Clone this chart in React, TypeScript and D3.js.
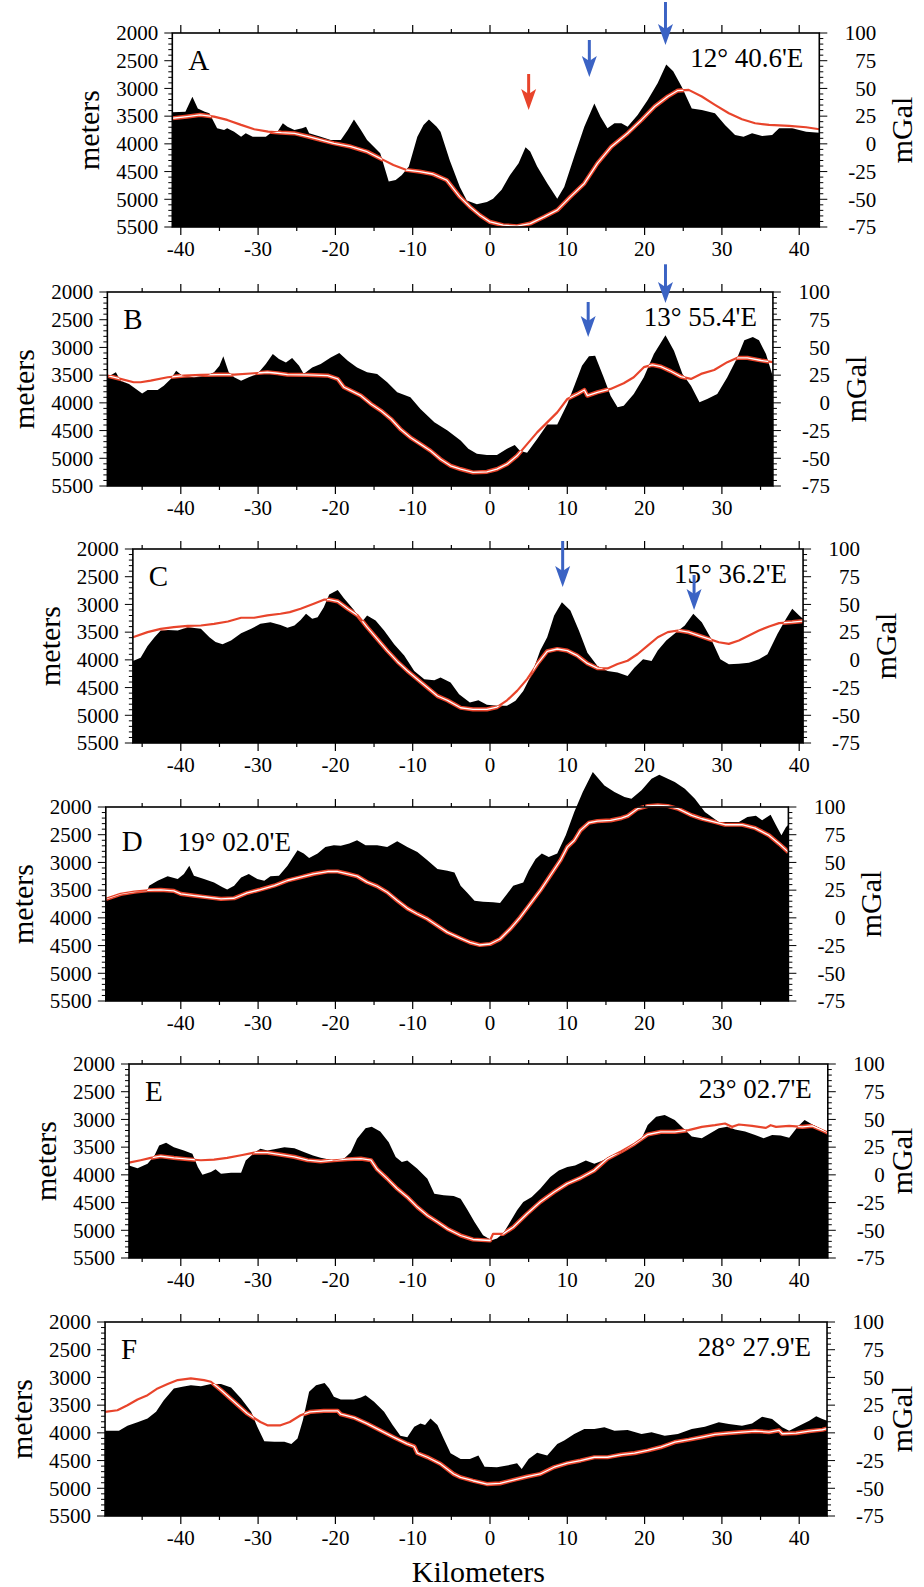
import React, { useEffect, useRef } from 'react';
import * as d3 from 'd3';

// ---- data: [km, depth in meters] and [km, anomaly in mGal] ----
const depthA = [[-41.1,3430],[-39.4,3420],[-38.5,3150],[-37.8,3360],[-36.9,3420],[-36.3,3450],[-35.3,3720],[-34.4,3750],[-34.0,3720],[-33.1,3780],[-32.2,3870],[-31.6,3810],[-30.7,3870],[-29.9,3870],[-29.0,3870],[-28.4,3810],[-27.5,3780],[-26.8,3630],[-26.2,3690],[-25.3,3750],[-24.3,3720],[-23.8,3690],[-23.4,3810],[-21.9,3870],[-20.6,3930],[-19.3,3930],[-18.4,3750],[-17.6,3560],[-16.7,3750],[-15.9,3930],[-14.2,4170],[-13.1,4680],[-12.2,4650],[-11.4,4560],[-10.5,4410],[-9.4,3870],[-8.6,3660],[-7.9,3560],[-6.9,3690],[-6.4,3780],[-5.2,4300],[-3.9,4780],[-3.0,5020],[-1.7,5090],[-0.4,5050],[0.4,4990],[1.5,4830],[2.6,4560],[3.7,4350],[4.6,4060],[5.2,4140],[6.1,4410],[7.4,4710],[8.7,4990],[9.6,4780],[10.9,4230],[12.2,3690],[13.5,3270],[14.3,3510],[15.2,3720],[16.1,3630],[17.0,3630],[17.8,3690],[19.1,3480],[20.4,3210],[21.7,2900],[22.8,2570],[23.7,2690],[24.8,2970],[26.1,3360],[27.4,3390],[29.1,3450],[30.4,3660],[31.7,3840],[32.8,3870],[33.9,3810],[35.2,3860],[36.5,3840],[37.4,3720],[39.1,3720],[40.9,3780],[42.6,3800]];
const gravA = [[-41.1,23.1],[-39.2,24.6],[-37.5,26.1],[-35.7,24.6],[-34.0,21.6],[-32.2,17.1],[-30.5,13.2],[-28.7,11.0],[-27.0,10.1],[-25.3,9.5],[-23.5,6.5],[-21.9,3.5],[-20.2,0.5],[-18.0,-2.5],[-15.9,-7.1],[-14.2,-13.1],[-12.5,-19.1],[-10.8,-23.6],[-9.1,-25.1],[-7.4,-27.2],[-5.6,-32.7],[-3.9,-47.8],[-2.6,-56.8],[-1.3,-64.4],[0,-70.4],[1.7,-73.4],[3.5,-74.3],[5.2,-71.9],[7.0,-65.9],[8.7,-59.8],[10.4,-47.8],[12.2,-35.7],[13.9,-17.6],[15.7,-2.5],[17.8,9.5],[19.6,21.6],[21.3,33.7],[23.0,42.7],[24.3,48.1],[25.7,48.7],[27.4,42.7],[29.1,35.2],[30.9,27.6],[32.6,22.2],[34.3,18.6],[36.1,17.1],[38.7,16.2],[40.9,15.0],[42.6,13.2]];

const depthB = [[-49.5,3540],[-48.4,3450],[-47.8,3600],[-46.7,3660],[-45.8,3750],[-45.0,3830],[-44.3,3770],[-43.0,3770],[-42.2,3690],[-41.3,3570],[-40.6,3420],[-39.8,3510],[-38.3,3540],[-36.6,3510],[-35.7,3450],[-35.0,3330],[-34.5,3160],[-33.8,3450],[-33.1,3540],[-32.2,3600],[-31.2,3540],[-30.1,3480],[-29.0,3300],[-28.1,3120],[-27.3,3210],[-26.4,3270],[-25.6,3190],[-24.7,3330],[-24.1,3480],[-23.0,3360],[-21.9,3300],[-20.6,3180],[-19.5,3100],[-18.4,3240],[-17.2,3360],[-15.9,3450],[-14.6,3480],[-13.3,3630],[-12.0,3810],[-10.3,3900],[-9.0,4110],[-7.2,4350],[-5.5,4500],[-3.8,4680],[-2.8,4830],[-1.7,4920],[-0.4,4940],[0.9,4940],[2.2,4830],[3.2,4760],[3.9,4870],[4.8,4900],[6.1,4650],[7.4,4390],[8.7,4390],[10.0,4020],[11.0,3660],[11.9,3330],[12.8,3160],[13.6,3150],[14.7,3540],[15.6,3870],[16.5,4080],[17.3,4050],[18.6,3840],[19.9,3540],[21.2,3120],[22.7,2780],[23.8,3060],[24.9,3480],[26.0,3690],[27.1,3990],[28.1,3930],[29.4,3840],[30.7,3540],[32.0,3180],[32.9,2870],[34.0,2810],[34.8,2870],[35.7,3120],[36.6,3530]];
const gravB = [[-49.5,24.6],[-47.8,21.6],[-46.1,18.6],[-45.2,18.6],[-43.9,20.1],[-41.7,23.1],[-39.6,24.6],[-37.4,25.2],[-35.3,25.5],[-33.1,25.5],[-30.5,26.7],[-28.8,27.6],[-27.5,26.7],[-26.2,25.5],[-23.6,25.2],[-21.0,24.6],[-19.7,21.6],[-18.9,14.1],[-18.0,11.0],[-16.7,6.5],[-15.4,-1.0],[-14.1,-7.1],[-12.8,-14.6],[-11.6,-23.6],[-10.3,-31.2],[-9.0,-37.2],[-7.7,-43.2],[-6.4,-50.8],[-5.1,-56.8],[-3.8,-59.8],[-2.2,-62.8],[-0.4,-62.2],[0.9,-59.8],[2.2,-55.3],[3.5,-47.8],[4.8,-37.2],[6.1,-26.6],[7.4,-17.6],[8.7,-8.6],[10.0,3.5],[11.3,8.0],[12.2,11.6],[12.6,6.5],[13.9,9.5],[15.6,12.6],[17.3,17.7],[18.6,23.1],[19.9,32.2],[21.0,34.3],[22.1,32.7],[23.4,28.5],[24.7,23.7],[26.0,21.6],[27.3,26.1],[29.0,29.7],[30.7,36.7],[32.0,40.6],[33.3,40.6],[35.1,38.2],[36.6,36.7]];

const depthC = [[-46.2,4020],[-45.2,3960],[-44.3,3750],[-43.4,3590],[-42.6,3470],[-41.7,3460],[-40.4,3470],[-39.1,3410],[-37.4,3440],[-36.3,3590],[-35.5,3680],[-34.6,3720],[-33.5,3650],[-32.2,3520],[-30.9,3440],[-29.7,3350],[-28.4,3320],[-27.1,3370],[-26.2,3420],[-25.3,3380],[-24.5,3280],[-23.8,3170],[-23.0,3260],[-22.3,3230],[-21.5,3050],[-20.8,2820],[-19.7,2740],[-18.9,2890],[-17.6,3100],[-16.6,3320],[-15.9,3200],[-14.8,3290],[-13.7,3470],[-12.4,3720],[-11.1,3920],[-9.8,4200],[-8.5,4350],[-7.2,4370],[-6.4,4320],[-5.1,4410],[-4.0,4620],[-2.6,4770],[-1.5,4730],[-0.4,4810],[0.9,4830],[2.2,4830],[3.3,4740],[4.3,4560],[5.4,4260],[6.5,3830],[7.4,3590],[8.3,3200],[9.3,2960],[10.4,3110],[11.5,3470],[12.6,3870],[13.9,4110],[15.2,4200],[16.5,4230],[17.8,4290],[18.7,4140],[19.8,3990],[20.9,4020],[21.7,3830],[22.8,3650],[24.1,3500],[25.2,3380],[26.3,3170],[27.4,3320],[28.5,3590],[29.8,3990],[30.9,4080],[32.2,4070],[33.5,4050],[34.8,3990],[35.9,3900],[37.2,3530],[38.3,3260],[39.1,3080],[40.0,3200],[40.5,3260]];
const gravC = [[-46.2,20.4],[-44.3,25.0],[-42.6,28.0],[-40.9,29.5],[-39.1,30.7],[-37.4,31.0],[-35.7,32.5],[-33.9,34.6],[-32.2,38.0],[-30.5,38.0],[-28.8,40.1],[-27.1,41.6],[-25.9,43.1],[-24.5,46.1],[-22.8,50.7],[-21.5,54.3],[-20.8,54.3],[-19.7,52.8],[-18.4,46.1],[-17.1,40.1],[-15.9,29.5],[-14.6,18.9],[-13.3,8.3],[-12.0,-1.4],[-10.7,-9.9],[-9.4,-17.4],[-8.1,-25.0],[-6.8,-32.6],[-5.5,-36.5],[-3.8,-43.2],[-2.2,-44.7],[-0.4,-44.7],[0.9,-42.6],[2.2,-36.5],[3.5,-28.0],[4.8,-17.4],[6.1,-3.8],[7.4,7.7],[8.7,9.8],[10.0,8.3],[11.3,3.8],[12.6,-3.2],[13.9,-7.4],[15.2,-7.7],[16.5,-3.8],[17.8,-0.8],[19.1,5.3],[20.4,12.8],[21.7,20.4],[23.0,25.0],[24.3,26.5],[25.7,25.0],[27.0,21.9],[28.3,18.9],[29.6,15.9],[30.9,14.4],[32.2,17.4],[33.5,21.9],[34.8,26.5],[36.1,30.1],[37.4,33.1],[39.1,34.0],[40.5,35.0]];

const depthD = [[-49.7,3660],[-47.8,3570],[-46.0,3530],[-44.4,3530],[-44.1,3420],[-43.0,3330],[-41.7,3250],[-40.4,3300],[-39.6,3210],[-38.9,3060],[-38.3,3240],[-37.0,3300],[-35.7,3360],[-34.6,3450],[-34.0,3490],[-33.1,3420],[-32.2,3270],[-31.2,3210],[-30.1,3300],[-29.2,3330],[-28.4,3250],[-27.3,3240],[-26.2,3060],[-24.9,2780],[-24.1,2840],[-23.4,2920],[-22.3,2840],[-21.3,2720],[-20.2,2690],[-19.3,2700],[-18.2,2660],[-17.2,2600],[-16.1,2690],[-14.6,2690],[-13.3,2720],[-12.0,2620],[-10.7,2720],[-9.4,2810],[-8.1,2960],[-6.8,3120],[-5.5,3150],[-4.6,3180],[-3.8,3420],[-3.0,3540],[-2.0,3690],[-0.9,3710],[0.4,3720],[1.3,3730],[2.2,3570],[3.0,3420],[4.3,3360],[5.0,3150],[5.9,2940],[6.7,2840],[7.6,2900],[8.7,2840],[9.8,2510],[10.9,2090],[12.0,1730],[13.3,1370],[14.8,1610],[16.1,1730],[17.4,1820],[18.3,1850],[19.6,1700],[20.9,1490],[21.9,1420],[23.9,1550],[25.2,1670],[26.5,1850],[27.8,2090],[29.6,2270],[30.9,2270],[32.2,2270],[33.3,2180],[34.4,2160],[35.2,2240],[36.3,2140],[37.0,2330],[37.7,2510],[38.3,2360],[38.6,2320]];
const gravD = [[-49.7,17.1],[-47.8,21.6],[-46.0,23.7],[-44.3,24.9],[-42.6,25.2],[-40.9,24.3],[-40.0,21.6],[-38.3,20.1],[-36.6,18.6],[-34.8,17.1],[-33.1,17.7],[-31.4,22.5],[-29.7,25.5],[-27.9,29.1],[-26.2,33.7],[-24.5,36.7],[-22.8,39.7],[-21.0,41.8],[-19.7,41.8],[-18.4,39.7],[-17.2,37.6],[-15.9,32.2],[-14.6,28.5],[-13.3,23.1],[-12.0,15.6],[-10.7,8.6],[-9.4,3.5],[-8.1,-1.0],[-6.8,-7.1],[-5.5,-13.1],[-3.8,-18.5],[-2.6,-22.1],[-1.3,-24.5],[0,-23.6],[1.3,-19.1],[2.6,-10.1],[3.9,0.5],[5.2,12.6],[6.5,24.6],[7.8,38.2],[9.1,51.8],[10.0,63.8],[10.9,69.8],[11.7,78.9],[12.8,85.8],[13.9,87.3],[15.6,87.9],[17.0,90.0],[17.8,91.9],[19.1,98.5],[20.4,100.9],[21.7,101.5],[23.0,100.9],[24.3,98.5],[26.1,92.5],[27.4,89.4],[29.1,86.4],[30.4,84.0],[32.6,84.0],[34.3,81.0],[36.1,74.4],[37.4,66.8],[38.6,59.3]];

const depthE = [[-46.7,3830],[-45.6,3880],[-44.3,3800],[-43.4,3650],[-42.8,3470],[-41.9,3420],[-40.9,3500],[-39.6,3560],[-38.5,3620],[-37.8,3860],[-37.2,4000],[-36.1,3950],[-35.5,3900],[-34.8,3980],[-33.5,3960],[-32.2,3960],[-31.6,3740],[-30.5,3600],[-29.7,3530],[-28.8,3560],[-27.9,3540],[-26.6,3500],[-25.3,3520],[-24.0,3590],[-22.9,3650],[-21.9,3690],[-20.2,3740],[-18.9,3710],[-18.0,3590],[-17.2,3350],[-16.1,3160],[-15.3,3130],[-14.2,3220],[-13.1,3410],[-12.2,3680],[-11.4,3770],[-10.7,3740],[-9.4,3890],[-8.1,4070],[-7.2,4340],[-6.0,4370],[-4.7,4380],[-3.8,4430],[-3.0,4610],[-2.0,4850],[-0.9,5090],[0.2,5180],[0.9,5150],[1.7,5060],[2.6,4850],[3.5,4640],[4.3,4490],[5.4,4400],[6.5,4250],[7.8,4040],[8.9,3920],[10.0,3860],[11.0,3830],[12.4,3740],[13.5,3800],[14.6,3740],[15.7,3650],[17.0,3590],[18.3,3470],[19.6,3350],[20.4,3100],[21.5,2950],[22.6,2920],[23.9,3010],[25.0,3160],[26.1,3310],[27.4,3340],[28.5,3250],[29.6,3160],[30.7,3130],[31.7,3180],[33.0,3220],[34.3,3280],[35.4,3340],[36.5,3280],[37.6,3290],[38.7,3330],[39.8,3130],[40.7,3010],[41.7,3090],[43.0,3180],[43.7,3240]];
const gravE = [[-46.7,11.0],[-45.2,13.2],[-43.9,15.3],[-42.6,16.8],[-40.9,15.3],[-39.1,14.1],[-37.4,13.2],[-35.7,13.8],[-34.0,15.3],[-32.2,17.7],[-30.5,20.1],[-28.8,20.1],[-27.1,18.3],[-25.3,16.2],[-23.6,13.2],[-21.9,12.2],[-20.2,13.2],[-18.4,14.1],[-16.7,14.7],[-15.4,13.2],[-14.6,5.0],[-13.3,-3.4],[-12.0,-12.5],[-10.7,-20.0],[-9.4,-29.1],[-8.1,-36.6],[-6.8,-42.6],[-5.5,-48.7],[-3.8,-54.7],[-2.2,-58.3],[0,-59.2],[0.4,-53.2],[1.7,-53.2],[3.0,-47.2],[4.8,-35.1],[6.5,-24.5],[8.3,-15.5],[10.0,-7.9],[11.7,-2.8],[13.5,4.1],[15.2,14.7],[17.0,21.3],[18.7,28.2],[20.4,36.4],[22.1,38.8],[23.9,38.8],[25.7,40.3],[27.4,43.3],[29.1,44.8],[30.4,46.3],[31.3,43.3],[32.2,45.4],[33.9,44.2],[35.7,42.4],[36.3,44.8],[37.0,43.3],[38.7,44.2],[40.4,43.3],[41.7,44.2],[43.0,40.3],[43.7,38.2]];

const depthF = [[-49.8,3960],[-48.0,3960],[-46.9,3870],[-45.6,3810],[-44.3,3740],[-43.2,3620],[-42.2,3410],[-40.9,3200],[-39.8,3170],[-38.7,3140],[-37.4,3160],[-36.1,3120],[-34.8,3120],[-33.5,3180],[-32.2,3380],[-30.9,3620],[-30.1,3890],[-29.2,4150],[-27.9,4160],[-26.6,4160],[-25.7,4200],[-24.9,4100],[-24.2,3770],[-23.4,3260],[-22.5,3140],[-21.4,3100],[-20.8,3200],[-20.2,3350],[-19.3,3400],[-17.6,3400],[-16.7,3360],[-16.1,3320],[-15.0,3440],[-13.7,3620],[-12.6,3860],[-11.6,4050],[-10.7,4080],[-9.8,3890],[-9.0,3830],[-8.4,3860],[-7.7,3740],[-6.8,3860],[-6.0,4100],[-5.1,4370],[-3.8,4470],[-2.6,4470],[-1.5,4410],[-0.7,4610],[0.9,4620],[2.2,4590],[3.5,4550],[4.1,4650],[5.0,4470],[6.1,4360],[7.4,4410],[8.7,4200],[9.6,4140],[10.9,4020],[12.2,3930],[13.5,3930],[14.8,3900],[16.1,3960],[17.8,3950],[19.6,4020],[20.9,3990],[22.6,4050],[24.3,4020],[26.1,3930],[27.8,3890],[29.6,3810],[30.9,3840],[32.6,3870],[33.9,3830],[35.2,3710],[36.5,3750],[37.8,3900],[38.7,3960],[40.0,3870],[41.3,3780],[42.2,3700],[43.0,3750],[43.6,3780]];
const gravF = [[-49.8,18.9],[-48.2,20.4],[-46.9,24.9],[-45.6,30.1],[-44.3,34.0],[-43.0,40.1],[-41.7,44.0],[-40.4,47.6],[-38.7,49.2],[-37.0,47.6],[-36.1,46.1],[-34.8,38.6],[-33.1,28.0],[-31.4,17.4],[-29.7,9.8],[-28.8,6.8],[-27.1,6.8],[-25.9,9.8],[-24.5,15.9],[-23.3,18.9],[-21.5,19.8],[-19.7,19.8],[-19.3,16.8],[-17.6,13.7],[-15.9,8.3],[-14.2,2.2],[-12.5,-3.8],[-10.7,-9.9],[-9.8,-12.3],[-9.4,-18.3],[-8.1,-22.0],[-6.4,-28.0],[-4.7,-37.1],[-3.8,-40.1],[-2.2,-43.2],[-0.4,-46.2],[1.3,-45.6],[3.0,-42.6],[4.8,-39.5],[6.5,-37.1],[8.3,-31.0],[10.0,-27.4],[11.7,-25.0],[13.5,-22.0],[15.2,-22.0],[17.0,-19.6],[18.7,-18.3],[20.4,-15.9],[22.1,-12.9],[23.9,-8.4],[25.7,-6.2],[27.4,-3.8],[29.1,-1.4],[30.9,-0.2],[32.6,0.7],[34.3,1.6],[36.1,0.7],[37.4,2.2],[37.8,-0.8],[39.6,-0.2],[41.3,1.6],[43.0,2.8],[43.6,3.8]];

// arrows: km position, tail depth, tip depth (on the meters axis), kind
const arrowsA = [[5.0, 2740, 3389, 'red'], [12.85, 2126, 2794, 'blue'], [22.7, 1441, 2216, 'blue']];
const arrowsB = [[12.7, 2180, 2812, 'blue'], [22.7, 1500, 2198, 'blue']];
const arrowsC = [[9.4, 1856, 2686, 'blue'], [26.4, 2469, 3100, 'blue']];

const letters = ['A', 'B', 'C', 'D', 'E', 'F'];
const longitudes = ["12° 40.6'E", "13° 55.4'E", "15° 36.2'E", "19° 02.0'E", "23° 02.7'E", "28° 27.9'E"];
const spans = [[-41.1, 42.6], [-49.5, 36.6], [-46.2, 40.5], [-49.7, 38.6], [-46.7, 43.7], [-49.8, 43.6]];
const depths = [depthA, depthB, depthC, depthD, depthE, depthF];
const gravs = [gravA, gravB, gravC, gravD, gravE, gravF];
const arrows = [arrowsA, arrowsB, arrowsC, [], [], []];

const depthTicks = d3.range(2000, 5501, 500);
const gravTicks = d3.range(-75, 101, 25);

const W = 924;
const H = 1587;
const panelTops = [33, 292, 549, 807, 1064, 1322];
const PANEL_H = 194;
const FONT = "'Liberation Serif', 'Times New Roman', Times, serif";
const RED = '#e8442b';
const BLUE = '#3b63c4';
const TICK_FS = 21;
const TITLE_FS = 30;

function App() {
  const chartRef = useRef(null);

  useEffect(() => {
    const svg = d3.select(chartRef.current);
    svg.selectAll('*').remove();

    // shared km scale for all six profiles
    const x = d3.scaleLinear().domain([-40, 40]).range([180.8, 799.2]);

    letters.forEach((letter, i) => {
      const top = panelTops[i];
      const bottom = top + PANEL_H;
      const [k0, k1] = spans[i];
      const left = x(k0);
      const right = x(k1);
      const yM = d3.scaleLinear().domain([2000, 5500]).range([top, bottom]);
      const yG = d3.scaleLinear().domain([100, -75]).range([top, bottom]);
      const g = svg.append('g');

      // bathymetry (black fill)
      const area = d3.area().x(d => x(d[0])).y0(bottom).y1(d => yM(d[1]));
      g.append('path').attr('d', area(depths[i])).attr('fill', '#000');
      const clipId = 'bathy-clip-' + i;
      g.append('clipPath').attr('id', clipId).append('path').attr('d', area(depths[i]));

      // gravity anomaly: thin red line, red/white/red where it crosses the black
      const line = d3.line().x(d => x(d[0])).y(d => yG(d[1]));
      g.append('path').attr('d', line(gravs[i]))
        .attr('fill', 'none').attr('stroke', RED).attr('stroke-width', 2.2).attr('stroke-linejoin', 'round');
      const inner = g.append('g').attr('clip-path', `url(#${clipId})`);
      inner.append('path').attr('d', line(gravs[i]))
        .attr('fill', 'none').attr('stroke', RED).attr('stroke-width', 4.2).attr('stroke-linejoin', 'round');
      inner.append('path').attr('d', line(gravs[i]))
        .attr('fill', 'none').attr('stroke', '#fff').attr('stroke-width', 1.3).attr('stroke-linejoin', 'round');

      // frame
      g.append('rect')
        .attr('x', left).attr('y', top).attr('width', right - left).attr('height', PANEL_H)
        .attr('fill', 'none').attr('stroke', '#000').attr('stroke-width', 1.6);

      // left axis: dense ruler ticks, labels every 500 m
      g.append('g').selectAll('line').data(d3.range(2000, 5501, 100)).join('line')
        .attr('x1', d => left - (d % 500 === 0 ? 8 : 4)).attr('x2', left)
        .attr('y1', d => yM(d)).attr('y2', d => yM(d))
        .attr('stroke', '#000').attr('stroke-width', 1);
      g.append('g').selectAll('text').data(depthTicks).join('text')
        .attr('x', left - 14).attr('y', d => yM(d)).attr('dy', '0.35em')
        .attr('text-anchor', 'end').attr('font-family', FONT).attr('font-size', TICK_FS)
        .text(d => d);

      // right axis: mGal
      g.append('g').selectAll('line').data(d3.range(-75, 101, 5)).join('line')
        .attr('x1', right).attr('x2', d => right + (d % 25 === 0 ? 8 : 4))
        .attr('y1', d => yG(d)).attr('y2', d => yG(d))
        .attr('stroke', '#000').attr('stroke-width', 1);
      g.append('g').selectAll('text').data(gravTicks).join('text')
        .attr('x', right + 57).attr('y', d => yG(d)).attr('dy', '0.35em')
        .attr('text-anchor', 'end').attr('font-family', FONT).attr('font-size', TICK_FS)
        .text(d => d);

      // top and bottom km ticks
      const kmTicks = d3.range(Math.ceil(k0 / 5) * 5, k1 + 0.01, 5);
      g.append('g').selectAll('line').data(kmTicks).join('line')
        .attr('x1', d => x(d)).attr('x2', d => x(d))
        .attr('y1', top).attr('y2', d => top - (d % 10 === 0 ? 8 : 4))
        .attr('stroke', '#000').attr('stroke-width', 1.2);
      g.append('g').selectAll('line').data(kmTicks).join('line')
        .attr('x1', d => x(d)).attr('x2', d => x(d))
        .attr('y1', bottom).attr('y2', d => bottom + (d % 10 === 0 ? 8 : 4))
        .attr('stroke', '#000').attr('stroke-width', 1.2);
      g.append('g').selectAll('text').data(kmTicks.filter(d => d % 10 === 0)).join('text')
        .attr('x', d => x(d)).attr('y', bottom + 29)
        .attr('text-anchor', 'middle').attr('font-family', FONT).attr('font-size', TICK_FS)
        .text(d => d);

      // axis titles (the right one is kept inside the page on the wider panels)
      g.append('text')
        .attr('transform', `translate(${left - 73},${(top + bottom) / 2}) rotate(-90)`)
        .attr('text-anchor', 'middle').attr('font-family', FONT).attr('font-size', TITLE_FS)
        .text('meters');
      g.append('text')
        .attr('transform', `translate(${Math.min(right + 93, W - 12)},${(top + bottom) / 2}) rotate(-90)`)
        .attr('text-anchor', 'middle').attr('font-family', FONT).attr('font-size', TITLE_FS)
        .text('mGal');

      // panel letter and longitude
      const isD = letter === 'D';
      g.append('text')
        .attr('x', left + 16).attr('y', top + (isD ? 44 : 37))
        .attr('font-family', FONT).attr('font-size', 29)
        .text(letter);
      g.append('text')
        .attr('x', isD ? left + 72 : right - 16).attr('y', top + (isD ? 44 : 34))
        .attr('text-anchor', isD ? 'start' : 'end')
        .attr('font-family', FONT).attr('font-size', 27)
        .text(longitudes[i]);

      // arrows
      arrows[i].forEach(([km, from, to, kind]) => {
        const ax = x(km);
        const tail = yM(from);
        const tip = yM(to);
        const color = kind === 'red' ? RED : BLUE;
        g.append('line')
          .attr('x1', ax).attr('x2', ax).attr('y1', tail).attr('y2', tip - 16)
          .attr('stroke', color).attr('stroke-width', 3);
        g.append('path')
          .attr('d', `M${ax - 7.5},${tip - 21} L${ax},${tip - 16} L${ax + 7.5},${tip - 21} L${ax},${tip} Z`)
          .attr('fill', color);
      });
    });

    svg.append('text')
      .attr('x', x(-1.5)).attr('y', 1582)
      .attr('text-anchor', 'middle').attr('font-family', FONT).attr('font-size', TITLE_FS)
      .text('Kilometers');
  }, []);

  return (
    <svg
      ref={chartRef}
      width={W}
      height={H}
      style={{ position: 'absolute', left: 0, top: 0, background: '#fff' }}
    />
  );
}

export default App;
